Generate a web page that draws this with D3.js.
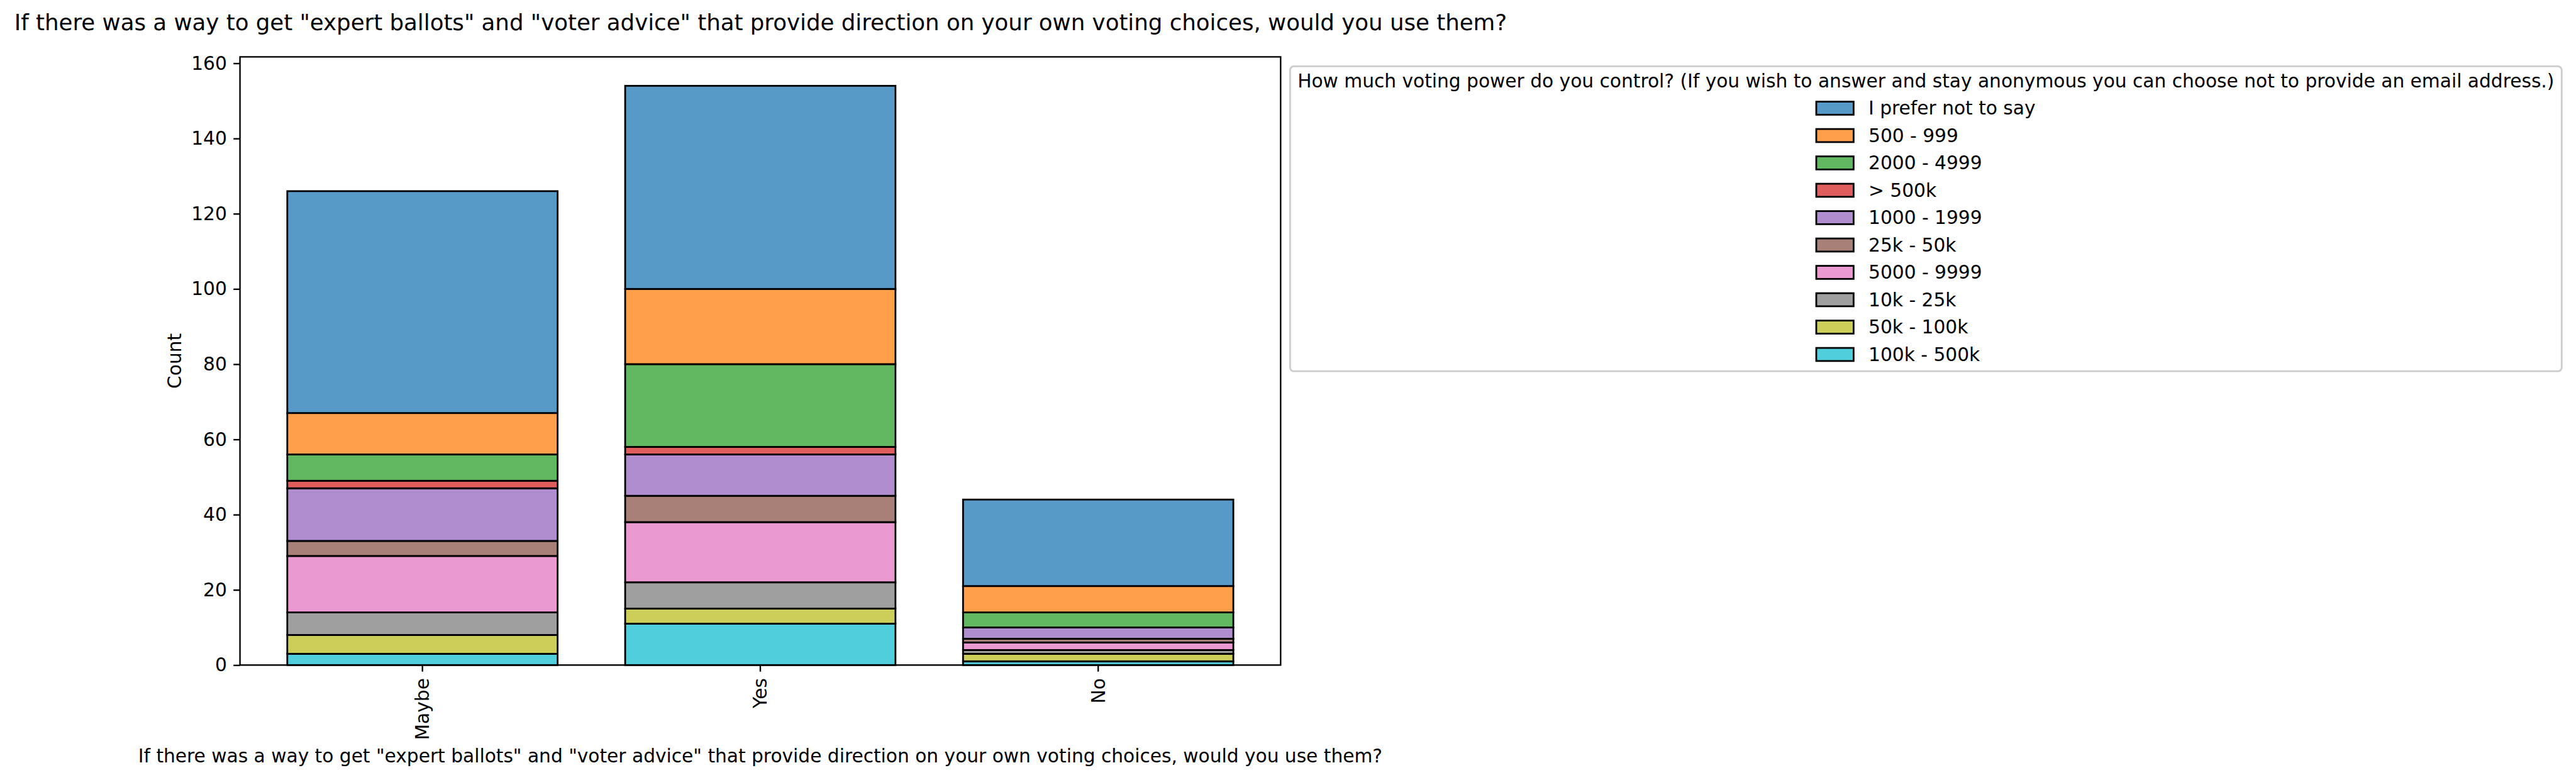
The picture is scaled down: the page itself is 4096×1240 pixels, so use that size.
<!DOCTYPE html>
<html>
<head>
<meta charset="utf-8">
<script src="https://cdn.jsdelivr.net/npm/d3@7"></script>
<style>
  html, body { margin: 0; padding: 0; background: #ffffff; }
  svg { display: block; }
  text { font-family: "DejaVu Sans", sans-serif; fill: #000; }
</style>
</head>
<body>
<svg id="chart" width="4096" height="1240"></svg>
<script>
// ---------------- DATA ----------------
const chartTitle = 'If there was a way to get "expert ballots" and "voter advice" that provide direction on your own voting choices, would you use them?';
const xAxisTitle = chartTitle;
const yAxisTitle = "Count";
const legendTitle = "How much voting power do you control? (If you wish to answer and stay anonymous you can choose not to provide an email address.)";

const categories = ["Maybe", "Yes", "No"];

const seriesNames = [
  "I prefer not to say", "500 - 999", "2000 - 4999", "> 500k", "1000 - 1999",
  "25k - 50k", "5000 - 9999", "10k - 25k", "50k - 100k", "100k - 500k"
];

// values per series, in category order [Maybe, Yes, No]
const preferNotToSay = [59, 54, 23];
const v500_999       = [11, 20, 7];
const v2000_4999     = [7, 22, 4];
const vOver500k      = [2, 2, 0];
const v1000_1999     = [14, 11, 3];
const v25k_50k       = [4, 7, 1];
const v5000_9999     = [15, 16, 2];
const v10k_25k       = [6, 7, 1];
const v50k_100k      = [5, 4, 2];
const v100k_500k     = [3, 11, 1];

const seriesValues = [preferNotToSay, v500_999, v2000_4999, vOver500k, v1000_1999,
                      v25k_50k, v5000_9999, v10k_25k, v50k_100k, v100k_500k];

const seriesColors = ["#1f77b4", "#ff7f0e", "#2ca02c", "#d62728", "#9467bd",
                      "#8c564b", "#e377c2", "#7f7f7f", "#bcbd22", "#17becf"];

const yTicks = [0, 20, 40, 60, 80, 100, 120, 140, 160];

// ---------------- LAYOUT ----------------
const FS = 29.67;          // 10pt
const TITLE_FS = 35.6;     // 12pt
const plot = { left: 381.6, right: 2036.3, top: 90.4, bottom: 1057.3 };
const TICK = 10.4, PAD = 10.4;
const EDGE_W = 2.8;

const svg = d3.select("#chart");

// table for stacking
const table = categories.map((c, i) => {
  const row = { category: c };
  seriesNames.forEach((s, k) => { row[s] = seriesValues[k][i]; });
  return row;
});
// stack bottom-up in reverse legend order (last hue at bottom)
const stackKeys = seriesNames.slice().reverse();
const stacked = d3.stack().keys(stackKeys)(table);

const totals = table.map(r => d3.sum(seriesNames, s => r[s]));
const yMax = d3.max(totals) * 1.05;

const x = d3.scaleBand().domain(categories)
  .range([plot.left, plot.right]).paddingInner(0.2).paddingOuter(0.14);
const y = d3.scaleLinear().domain([0, yMax]).range([plot.bottom, plot.top]);
const color = d3.scaleOrdinal().domain(seriesNames).range(seriesColors);

// bars
const layers = svg.append("g").selectAll("g").data(stacked).join("g")
  .attr("fill", d => color(d.key)).attr("fill-opacity", 0.75);
layers.selectAll("rect").data(d => d.map(p => ({ p, key: d.key })))
  .join("rect")
  .attr("x", d => x(d.p.data.category))
  .attr("width", x.bandwidth())
  .attr("y", d => y(d.p[1]))
  .attr("height", d => Math.max(0, y(d.p[0]) - y(d.p[1])))
  .attr("stroke", "#000").attr("stroke-opacity", 1)
  .attr("stroke-width", EDGE_W);

// y axis
const yAxis = svg.append("g").attr("transform", `translate(${plot.left},0)`)
  .call(d3.axisLeft(y).tickValues(yTicks).tickSize(TICK).tickPadding(PAD).tickFormat(d3.format("d")));
yAxis.select(".domain").remove();
yAxis.selectAll(".tick line").attr("stroke", "#000").attr("stroke-width", 2.37);
yAxis.selectAll(".tick text").attr("font-size", FS).attr("font-family", "DejaVu Sans").attr("fill", "#000");

// x axis
const xAxis = svg.append("g").attr("transform", `translate(0,${plot.bottom})`)
  .call(d3.axisBottom(x).tickSize(TICK).tickPadding(PAD));
xAxis.select(".domain").remove();
xAxis.selectAll(".tick line").attr("stroke", "#000").attr("stroke-width", 2.37);
xAxis.selectAll(".tick text")
  .attr("font-size", FS).attr("font-family", "DejaVu Sans").attr("fill", "#000")
  .attr("transform", `translate(0,${TICK + PAD}) rotate(-90)`)
  .attr("y", 0).attr("x", 0).attr("dy", "0.35em")
  .attr("text-anchor", "end");

// frame (spines)
svg.append("rect")
  .attr("x", plot.left).attr("y", plot.top)
  .attr("width", plot.right - plot.left).attr("height", plot.bottom - plot.top)
  .attr("fill", "none").attr("stroke", "#000").attr("stroke-width", 2.37);

// titles
svg.append("text").attr("x", 22.8).attr("y", 47.5)
  .attr("font-size", TITLE_FS).text(chartTitle);

svg.append("text")
  .attr("x", (plot.left + plot.right) / 2).attr("y", 1211.6)
  .attr("text-anchor", "middle").attr("font-size", FS).text(xAxisTitle);

svg.append("text")
  .attr("transform", `translate(287.6,${(plot.top + plot.bottom) / 2}) rotate(-90)`)
  .attr("text-anchor", "middle").attr("font-size", FS).text(yAxisTitle);

// legend
const lg = { left: 2051.3, top: 105.4, bottom: 590.2 };
const BORDER_PAD = 0.4 * FS;
const HANDLE_W = 2.0 * FS, HANDLE_H = 0.7 * FS, HANDLE_PAD = 0.8 * FS;
const ROW0 = 172, ROW_STEP = 43.5;

const legendG = svg.append("g");
const frame = legendG.append("rect");
const lt = legendG.append("text")
  .attr("x", lg.left + BORDER_PAD).attr("y", 139.3)
  .attr("font-size", FS).text(legendTitle);
const titleW = lt.node().getComputedTextLength();
const lgWidth = titleW + 2 * BORDER_PAD;
frame.attr("x", lg.left).attr("y", lg.top)
  .attr("width", lgWidth).attr("height", lg.bottom - lg.top)
  .attr("rx", 6).attr("ry", 6)
  .attr("fill", "#fff").attr("fill-opacity", 0.8)
  .attr("stroke", "#cccccc").attr("stroke-width", 2.8);

const entries = legendG.selectAll("g.entry").data(seriesNames).join("g").attr("class", "entry");
const labels = entries.append("text").attr("font-size", FS).text(d => d);
let maxW = 0;
labels.each(function () { maxW = Math.max(maxW, this.getComputedTextLength()); });
const colW = HANDLE_W + HANDLE_PAD + maxW;
const colLeft = lg.left + lgWidth / 2 - colW / 2;

entries.insert("rect", "text")
  .attr("x", colLeft)
  .attr("y", (d, i) => ROW0 + i * ROW_STEP - HANDLE_H / 2)
  .attr("width", HANDLE_W).attr("height", HANDLE_H)
  .attr("fill", d => color(d)).attr("fill-opacity", 0.75)
  .attr("stroke", "#000").attr("stroke-width", EDGE_W);
labels.attr("x", colLeft + HANDLE_W + HANDLE_PAD)
  .attr("y", (d, i) => ROW0 + i * ROW_STEP + 10);
</script>
</body>
</html>
